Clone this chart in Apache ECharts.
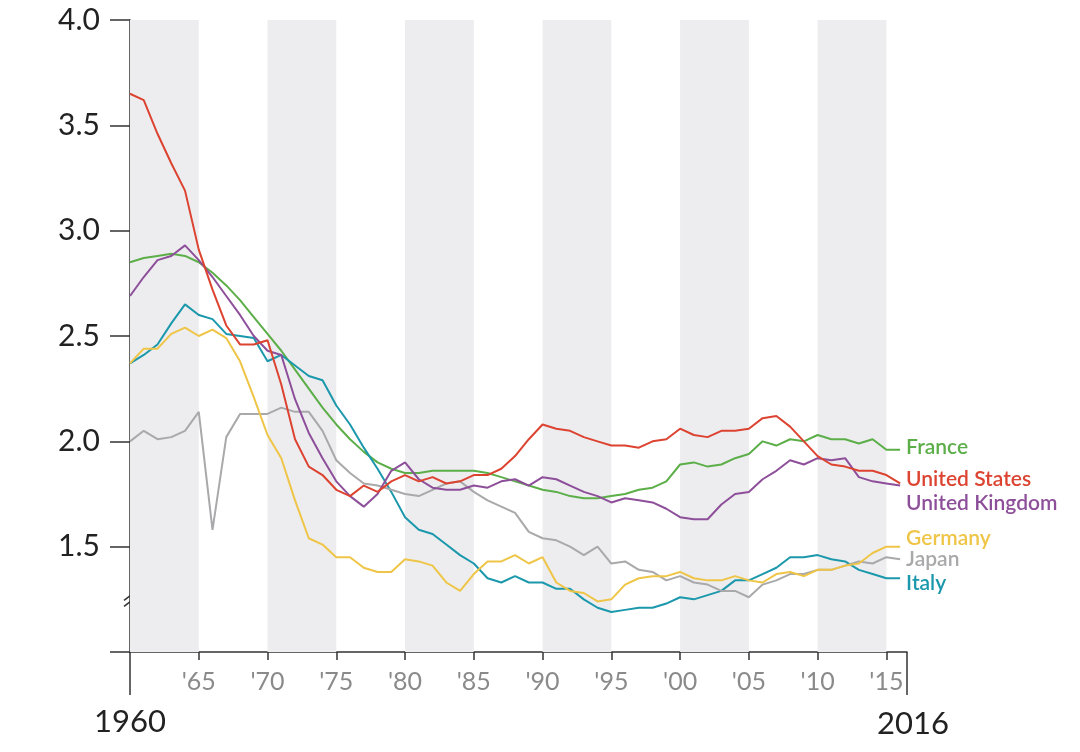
<!DOCTYPE html>
<html><head><meta charset="utf-8">
<script src="https://cdn.jsdelivr.net/npm/echarts@6/dist/echarts.min.js"></script>
<style>html,body{margin:0;padding:0;background:#fff}#c{width:1080px;height:752px}</style>
</head><body><div id="c"></div><script>
const years=[1960,1961,1962,1963,1964,1965,1966,1967,1968,1969,1970,1971,1972,1973,1974,1975,1976,1977,1978,1979,1980,1981,1982,1983,1984,1985,1986,1987,1988,1989,1990,1991,1992,1993,1994,1995,1996,1997,1998,1999,2000,2001,2002,2003,2004,2005,2006,2007,2008,2009,2010,2011,2012,2013,2014,2015,2016];
const tickYears=[1965,1970,1975,1980,1985,1990,1995,2000,2005,2010,2015];
const bandRanges=[[1960,1965],[1970,1975],[1980,1985],[1990,1995],[2000,2005],[2010,2015]];
const yTicks=[1.5,2.0,2.5,3.0,3.5,4.0];
const france=[2.85,2.87,2.88,2.89,2.88,2.85,2.80,2.74,2.67,2.59,2.51,2.43,2.34,2.25,2.16,2.08,2.01,1.95,1.90,1.87,1.85,1.85,1.86,1.86,1.86,1.86,1.85,1.83,1.81,1.79,1.77,1.76,1.74,1.73,1.73,1.74,1.75,1.77,1.78,1.81,1.89,1.90,1.88,1.89,1.92,1.94,2.00,1.98,2.01,2.00,2.03,2.01,2.01,1.99,2.01,1.96,1.96];
const usa=[3.65,3.62,3.46,3.32,3.19,2.91,2.72,2.55,2.46,2.46,2.48,2.27,2.01,1.88,1.84,1.77,1.74,1.79,1.76,1.81,1.84,1.81,1.83,1.80,1.81,1.84,1.84,1.87,1.93,2.01,2.08,2.06,2.05,2.02,2.00,1.98,1.98,1.97,2.00,2.01,2.06,2.03,2.02,2.05,2.05,2.06,2.11,2.12,2.07,2.00,1.93,1.89,1.88,1.86,1.86,1.84,1.80];
const uk=[2.69,2.78,2.86,2.88,2.93,2.86,2.78,2.69,2.60,2.50,2.43,2.41,2.20,2.04,1.92,1.81,1.74,1.69,1.75,1.86,1.90,1.82,1.78,1.77,1.77,1.79,1.78,1.81,1.82,1.79,1.83,1.82,1.79,1.76,1.74,1.71,1.73,1.72,1.71,1.68,1.64,1.63,1.63,1.70,1.75,1.76,1.82,1.86,1.91,1.89,1.92,1.91,1.92,1.83,1.81,1.80,1.79];
const germany=[2.37,2.44,2.44,2.51,2.54,2.50,2.53,2.49,2.38,2.21,2.03,1.92,1.72,1.54,1.51,1.45,1.45,1.40,1.38,1.38,1.44,1.43,1.41,1.33,1.29,1.37,1.43,1.43,1.46,1.42,1.45,1.33,1.29,1.28,1.24,1.25,1.32,1.35,1.36,1.36,1.38,1.35,1.34,1.34,1.36,1.34,1.33,1.37,1.38,1.36,1.39,1.39,1.41,1.42,1.47,1.50,1.50];
const japan=[2.00,2.05,2.01,2.02,2.05,2.14,1.58,2.02,2.13,2.13,2.13,2.16,2.14,2.14,2.05,1.91,1.85,1.80,1.79,1.77,1.75,1.74,1.77,1.80,1.81,1.76,1.72,1.69,1.66,1.57,1.54,1.53,1.50,1.46,1.50,1.42,1.43,1.39,1.38,1.34,1.36,1.33,1.32,1.29,1.29,1.26,1.32,1.34,1.37,1.37,1.39,1.39,1.41,1.43,1.42,1.45,1.44];
const italy=[2.37,2.41,2.46,2.56,2.65,2.60,2.58,2.51,2.50,2.49,2.38,2.41,2.36,2.31,2.29,2.17,2.08,1.97,1.87,1.76,1.64,1.58,1.56,1.51,1.46,1.42,1.35,1.33,1.36,1.33,1.33,1.30,1.30,1.25,1.21,1.19,1.20,1.21,1.21,1.23,1.26,1.25,1.27,1.29,1.34,1.34,1.37,1.40,1.45,1.45,1.46,1.44,1.43,1.39,1.37,1.35,1.35];

const FONT='Lato, "Open Sans", sans-serif';
const chart=echarts.init(document.getElementById('c'));
function pairs(arr){return years.map((y,i)=>[y,arr[i]]);}
const defs=[
  {name:'France',data:france,color:'#5cae49',off:[0,-3]},
  {name:'Italy',data:italy,color:'#1b98ac',off:[0,5]},
  {name:'Japan',data:japan,color:'#a9a9ab',off:[0,0]},
  {name:'Germany',data:germany,color:'#efc547',off:[0,-8]},
  {name:'United Kingdom',data:uk,color:'#8e4f9a',off:[0,18]},
  {name:'United States',data:usa,color:'#dc4330',off:[0,-4]}
];
const series=[{
  type:'line',name:'bands',data:pairs(france),symbol:'none',silent:true,z:0,
  lineStyle:{opacity:0},
  markArea:{silent:true,itemStyle:{color:'#ededef'},
    data:bandRanges.map(r=>[{xAxis:r[0]},{xAxis:r[1]}])}
}];
defs.forEach(d=>{
  series.push({
    type:'line',name:d.name,data:pairs(d.data),symbol:'none',z:3,
    lineStyle:{color:d.color,width:2},itemStyle:{color:d.color},
    endLabel:{show:true,formatter:'{a}',color:d.color,fontSize:21,fontWeight:600,
      fontFamily:FONT,offset:d.off,distance:6}
  });
});
chart.setOption({
  animation:false,
  backgroundColor:'#ffffff',
  grid:{left:130,right:173,top:20,bottom:100},
  xAxis:{type:'value',min:1960,max:2016.5,interval:5,
    axisLine:{show:true,onZero:false,lineStyle:{color:'#333',width:1.5}},
    axisTick:{show:true,length:8,customValues:tickYears,lineStyle:{color:'#333',width:1.5}},
    axisLabel:{customValues:tickYears,formatter:v=>"'"+String(v).slice(2),color:'#8a8a8a',
      fontSize:25,margin:17,fontFamily:FONT},
    splitLine:{show:false}},
  yAxis:{type:'value',min:1,max:4,interval:0.5,
    axisLine:{show:true,lineStyle:{color:'#333',width:1.5}},
    axisTick:{show:true,length:20,lineStyle:{color:'#333',width:1.5}},
    axisLabel:{formatter:v=>yTicks.indexOf(v)>=0?v.toFixed(1):'',color:'#222',fontSize:30,margin:30,fontFamily:FONT},
    splitLine:{show:false}},
  series:series
});
const p0=chart.convertToPixel({gridIndex:0},[1960,1]);
const p1=chart.convertToPixel({gridIndex:0},[2016.5,1]);
const pb=chart.convertToPixel({gridIndex:0},[1960,1.25]);
chart.setOption({graphic:[
  {type:'line',shape:{x1:p0[0],y1:p0[1],x2:p0[0],y2:p0[1]+43},style:{stroke:'#333',lineWidth:1.5}},
  {type:'line',shape:{x1:p1[0],y1:p1[1],x2:p1[0],y2:p1[1]+43},style:{stroke:'#333',lineWidth:1.5}},
  {type:'text',x:p0[0],y:p0[1]+70,style:{text:'1960',fill:'#222',font:'31px '+FONT,textAlign:'center',textVerticalAlign:'middle'}},
  {type:'text',x:p1[0]+6,y:p1[1]+72,style:{text:'2016',fill:'#222',font:'31px '+FONT,textAlign:'center',textVerticalAlign:'middle'}},
  {type:'rect',shape:{x:pb[0]-3,y:pb[1]-5,width:6,height:10},style:{fill:'#fff'}},
  {type:'line',shape:{x1:pb[0]-6,y1:pb[1]+1,x2:pb[0]+6,y2:pb[1]-8},style:{stroke:'#333',lineWidth:1.5}},
  {type:'line',shape:{x1:pb[0]-6,y1:pb[1]+7,x2:pb[0]+6,y2:pb[1]-2},style:{stroke:'#333',lineWidth:1.5}}
]});
</script></body></html>
